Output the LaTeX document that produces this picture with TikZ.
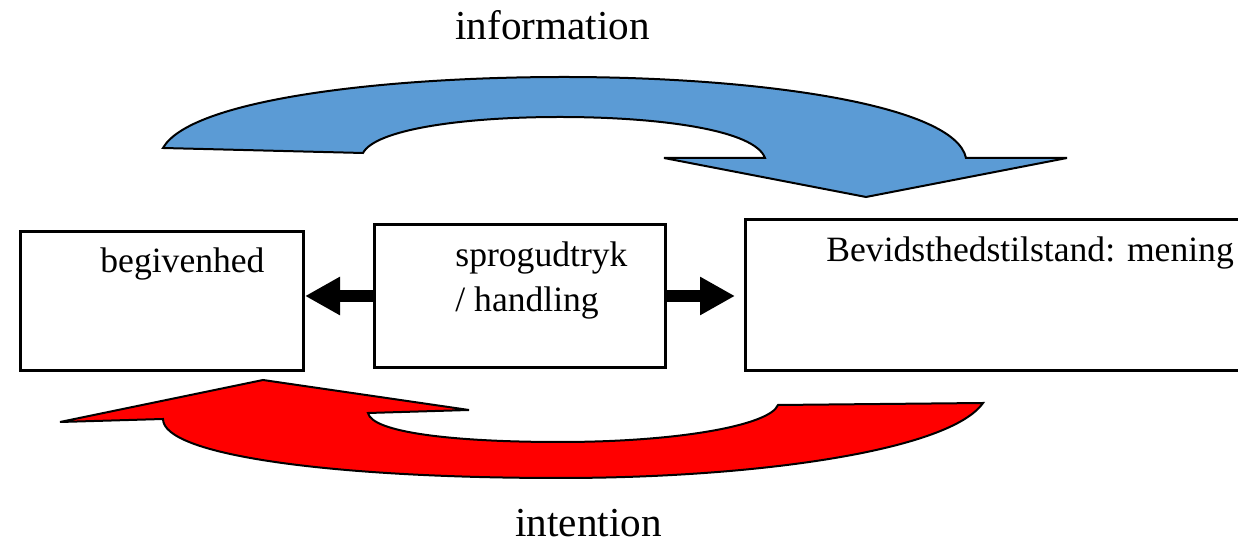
\documentclass[tikz,border=0pt]{standalone}
\usepackage{fontspec}
\setmainfont{Liberation Serif}
\usetikzlibrary{arrows.meta}
\definecolor{infoblue}{RGB}{91,155,213}
\tikzset{
	box/.style={draw, line width=1.5pt, rectangle, inner sep=0pt},
	boxtext/.style={anchor=base west, inner sep=0pt, font=\fontsize{17.8}{20}\selectfont},
	looptext/.style={anchor=base west, inner sep=0pt, font=\fontsize{20.6}{24}\selectfont},
	blockarrow/.style={line width=6pt, -{Triangle[length=17.5pt, width=18pt]}},
	bentarrow/.style={draw=black, line width=1pt, line join=miter}
}

\begin{document}
\begin{tikzpicture}[x=0.5pt, y=-0.5pt]
		%%%%% START %%%%%
		\useasboundingbox (0,0) rectangle (1238,544);
		
		\node[box, minimum width=141.5pt, minimum height=69.5pt] (begiv) at (162,301) {};
		\node[box, minimum width=145.5pt, minimum height=71.5pt] (sprog) at (520,296) {};
		\node[box, minimum width=252.25pt, minimum height=75.5pt] (bevid) at (997.75,295) {};
		
		\node[boxtext] (begivtxt) at (100,273) {begivenhed};
		\node[boxtext] (sprogtxt) at (455,267) {sprogudtryk};
		\node[boxtext] (handltxt) at (455,312) {/ handling};
		\node[boxtext] (bevidtxt) at (826,262) {Bevidsthedstilstand: mening};
		
		\draw[blockarrow] (sprog.west) -- (sprog.west -| begiv.east);
		\draw[blockarrow, shorten >=4.5pt] (sprog.east) -- (sprog.east -| bevid.west);
		
		% upper bent arrow
		\filldraw[bentarrow, fill=infoblue] (163,148) .. controls (190,100) and (380,77) .. (564,77)
			.. controls (760,77) and (955,105) .. (966,158) -- (1067,158) -- (866,197) -- (664,158) -- (765,158)
			.. controls (755,130) and (660,117) .. (560,117) .. controls (460,117) and (375,130) .. (363,153) -- cycle;
		\node[looptext] (info) at (455,40) {information};
		
		% lower bent arrow
		\filldraw[bentarrow, fill=red] (983,403) .. controls (950,450) and (760,478) .. (560,478)
			.. controls (330,478) and (163,455) .. (163,419) -- (60,422) -- (263,380) -- (469,410) -- (368,413)
			.. controls (372,432) and (450,442) .. (560,442) .. controls (680,442) and (770,425) .. (778,405) -- cycle;
		\node[looptext] (inten) at (515,537) {intention};
		
		%%%%% END %%%%%
\end{tikzpicture}
\end{document}
